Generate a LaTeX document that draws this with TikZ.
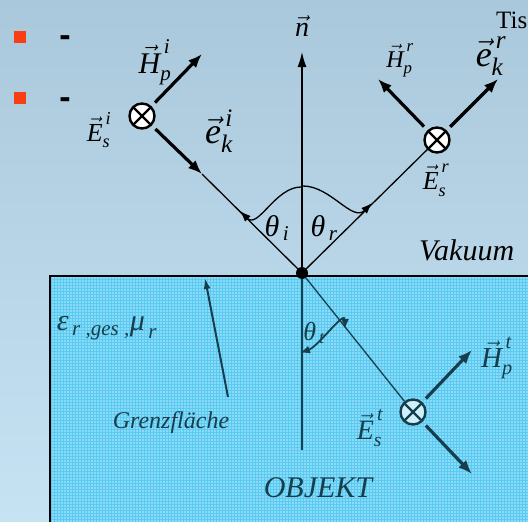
\RequirePackage{fix-cm}
\documentclass[tikz,border=0pt]{standalone}
\usepackage{amsmath}
\usepackage{fontspec}
\setmainfont{Liberation Serif}
\setsansfont{Liberation Sans}
\usetikzlibrary{arrows.meta}
\definecolor{bgtop}{RGB}{170,200,219}
\definecolor{bgbot}{RGB}{198,227,244}
\definecolor{objfill}{RGB}{140,218,247}
\definecolor{objgrid}{RGB}{90,203,240}
\definecolor{objdark}{RGB}{22,62,76}
\definecolor{objcirc}{RGB}{205,240,250}
\definecolor{bulletred}{RGB}{250,62,20}
\newcommand{\vf}[3]{$\vec{\text{\itshape #1}}^{\,\text{\itshape #2}}_{\text{\itshape #3}}$}
\newcommand{\ang}[1]{$\text{\itshape θ}_{\,\text{\itshape #1}}$}
\tikzset{ray/.style={line width=1.3pt},
 fld/.style={line width=3.2pt,shorten <=5pt,-{Latex[length=14pt,width=11pt]}},
 crossnode/.style={circle,draw,line width=2.4pt,fill=white,minimum size=25pt,inner sep=0pt,
  path picture={\draw[line width=2.4pt] (path picture bounding box.north west)--(path picture bounding box.south east)
   (path picture bounding box.north east)--(path picture bounding box.south west);}},
 gridln/.style={objgrid,line width=0.4pt},
 bullet/.style={fill=bulletred,minimum size=12pt,inner sep=0pt},
 dashtxt/.style={font=\sffamily\bfseries\fontsize{34}{34}\selectfont,inner sep=0pt},
 lbl/.style={font=\fontsize{29}{29}\selectfont,inner sep=0pt},
 lblsmall/.style={font=\fontsize{26}{26}\selectfont,inner sep=0pt},
 lblbig/.style={font=\fontsize{36}{36}\selectfont,inner sep=0pt},
 bigtxt/.style={font=\itshape\fontsize{30}{30}\selectfont,inner sep=0pt}}
\begin{document}
\begin{tikzpicture}[x=1pt,y=-1pt]
\useasboundingbox (0,0) rectangle (528,522);
\shade[top color=bgtop,bottom color=bgbot] (0,0) rectangle (528,522);
% Objekt
\fill[objfill] (50,276) rectangle (528,522);
\foreach \gx in {51,54,...,528} \draw[gridln] (\gx,276) -- (\gx,522);
\foreach \gy in {279,282,...,522} \draw[gridln] (50,\gy) -- (528,\gy);
\draw[line width=2pt] (528,276) -- (50,276) -- (50,522);

% bullets
\node[bullet] (b1) at (20,37) {};
\node[bullet] (b2) at (20,98) {};
\node[dashtxt] (d1) at (65,41) {-};
\node[dashtxt] (d2) at (65,103) {-};
\node[font=\fontsize{25}{25}\selectfont,anchor=west,inner sep=0pt] (tis) at (496,20) {Tis};

\coordinate (O) at (302,273);
\coordinate (ntip) at (302,52);
\coordinate (nend) at (302,450);
\coordinate (Hpi) at (202,54);
\coordinate (eki) at (202,174);
\coordinate (Hpr) at (378,79);
\coordinate (ekr) at (498,79);
\coordinate (Hpt) at (472,350);
\coordinate (ekt) at (472,474);
\node[crossnode] (ci) at (142,116) {};
\node[crossnode] (cr) at (437,140) {};
\node[crossnode,draw=objdark,fill=objcirc,
 path picture={\draw[objdark,line width=2.4pt] (path picture bounding box.north west)--(path picture bounding box.south east)
   (path picture bounding box.north east)--(path picture bounding box.south west);}] (ct) at (413,412) {};

% Normale
\draw[ray,-{Latex[length=15pt,width=9pt]}] (O) -- (ntip);
\draw[ray,objdark] (O) -- (nend);
% einfallend
\draw[ray] (eki) -- (O);
\draw[fld] (ci) -- (eki);
\draw[fld] (ci) -- (Hpi);
% reflektiert
\draw[ray] (O) -- (cr);
\draw[fld] (cr) -- (ekr);
\draw[fld] (cr) -- (Hpr);
% transmittiert
\draw[ray,objdark] (O) -- (ct);
\draw[fld,objdark] (ct) -- (ekt);
\draw[fld,objdark] (ct) -- (Hpt);
\node[circle,fill,inner sep=0pt,minimum size=12pt] (dot) at (O) {};

% Winkel
\coordinate (ai0) at (301,187);
\coordinate (ai1) at (240,211);
\coordinate (ar0) at (303,186);
\coordinate (ar1) at (372,203);
\coordinate (at0) at (345,329);
\coordinate (at1) at (300,353);
\draw[ray,-{Latex[length=11pt,width=8pt]}] (ai0) to[out=180,in=315] (ai1);
\draw[ray,-{Latex[length=11pt,width=8pt]}] (ar0) to[out=0,in=225] (ar1);
\draw[ray,line width=1.8pt,objdark,{Latex[length=10pt,width=8pt]}-{Latex[length=10pt,width=8pt]}] (at0) to[out=90,in=20] (at1);

% Grenzflaeche
\coordinate (gzfoot) at (228,397);
\coordinate (gztip) at (205,278);
\draw[objdark,line width=2pt,-{Latex[length=11pt,width=7pt]}] (gzfoot) -- (gztip);

% Beschriftung
\node[lbl,font=\fontsize{30}{30}\selectfont] (lHpi) at (155,62) {\vf{H}{i}{p}};
\node[lblsmall] (lEsi) at (99,130) {\vf{E}{i}{s}};
\node[lblbig] (leki) at (219,131) {\vf{e}{i}{k}};
\node[lbl,font=\fontsize{28}{28}\selectfont] (ln) at (302,26) {$\vec{\text{\itshape n}}$};
\node[lblsmall,font=\fontsize{24}{24}\selectfont] (lHpr) at (400,60) {\vf{H}{r}{p}};
\node[lblbig] (lekr) at (491,56) {\vf{e}{r}{k}};
\node[lblsmall] (lEsr) at (436,180) {\vf{E}{r}{s}};
\node[lbl,font=\fontsize{30}{30}\selectfont] (lthi) at (277,228) {\ang{i}};
\node[lbl,font=\fontsize{30}{30}\selectfont] (lthr) at (324,228) {\ang{r}};
\node[bigtxt,anchor=west] (vak) at (419,250) {Vakuum};
\node[lbl,text=objdark] (lHpt) at (497,358) {\vf{H}{t}{p}};
\node[lbl,font=\fontsize{28}{28}\selectfont,text=objdark] (lEst) at (370,428) {\vf{E}{t}{s}};
\node[lbl,font=\fontsize{26}{26}\selectfont,text=objdark] (ltht) at (314,333) {\ang{t}};
\node[lbl,font=\fontsize{30}{30}\selectfont,text=objdark] (leps) at (107,328)
 {$\text{\itshape ε}_{\,\text{\itshape r ,ges ,}}\text{\itshape μ}_{\,\text{\itshape r}}$};
\node[font=\itshape\fontsize{24}{24}\selectfont,text=objdark,inner sep=0pt] (gz) at (171,423) {Grenzfläche};
\node[bigtxt,text=objdark] (obj) at (318,488) {OBJEKT};
\end{tikzpicture}
\end{document}
